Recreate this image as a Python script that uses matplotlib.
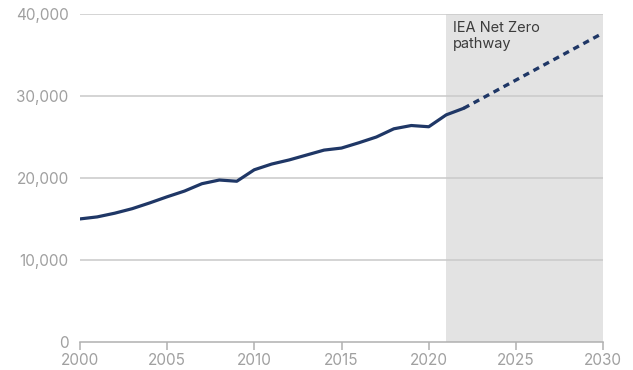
import numpy as np
import matplotlib.pyplot as plt

# historical series
years = [2000, 2001, 2002, 2003, 2004, 2005, 2006, 2007, 2008, 2009, 2010,
         2011, 2012, 2013, 2014, 2015, 2016, 2017, 2018, 2019, 2020, 2021, 2022]
values = [15000, 15250, 15700, 16250, 16950, 17700, 18400, 19300, 19750, 19600, 21000,
          21700, 22200, 22800, 23400, 23650, 24300, 25000, 26000, 26400, 26250, 27700, 28500]

# net zero pathway
nz_years = [2022, 2030]
nz_values = [28500, 37700]

yticks = [0, 10000, 20000, 30000, 40000]
xticks = [2000, 2005, 2010, 2015, 2020, 2025, 2030]

plt.rcParams['font.family'] = ['Inter', 'DejaVu Sans']

fig = plt.figure(figsize=(6.33, 3.70), dpi=100)
ax = fig.add_axes([0.126, 0.076, 0.827, 0.886])

ax.axvspan(2021, 2030, color='#e3e3e3', zorder=0, lw=0)

for y in yticks[1:]:
    ax.axhline(y, color='#c9c9c9', lw=1.1, zorder=1)

ax.plot(years, values, color='#1f3766', lw=2.3, zorder=3, solid_capstyle='round')
ax.plot(nz_years, nz_values, color='#1f3766', lw=2.4, zorder=3,
        linestyle=(0, (1.9, 1.5)))

ax.text(2021.4, 39200, 'IEA Net Zero\npathway', fontsize=10.5, color='#3c3c3c',
        va='top', ha='left', linespacing=1.2)

ax.set_xlim(2000, 2030)
ax.set_ylim(0, 40000)
ax.set_xticks(xticks)
ax.set_yticks(yticks)
ax.set_yticklabels([f'{v:,}' for v in yticks])

for s in ['top', 'right', 'left']:
    ax.spines[s].set_visible(False)
ax.spines['bottom'].set_color('#b0b0b0')
ax.spines['bottom'].set_linewidth(1.1)

ax.tick_params(axis='x', colors='#b0b0b0', length=6, width=1.1, labelsize=11,
               labelcolor='#a0a0a0', pad=2)
ax.tick_params(axis='y', length=0, labelsize=11, labelcolor='#a0a0a0', pad=8)

ax.set_facecolor('white')
fig.savefig('out.png', dpi=100)
